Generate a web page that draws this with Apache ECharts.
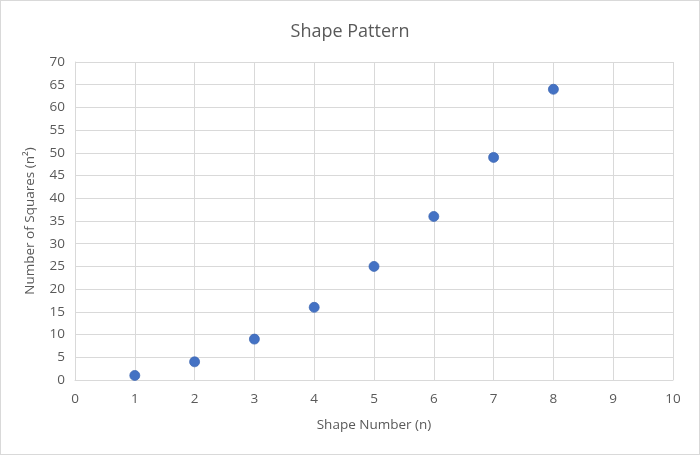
<!DOCTYPE html>
<html><head><meta charset="utf-8">
<script src="https://cdn.jsdelivr.net/npm/echarts@6/dist/echarts.min.js"></script>
<style>html,body{margin:0;padding:0;background:#fff}#c{width:700px;height:455px;box-sizing:border-box;border:1px solid #d9d9d9}</style>
</head><body><div id="c"></div>
<script>
const shapeNumbers = [1, 2, 3, 4, 5, 6, 7, 8];
const squareCounts = [1, 4, 9, 16, 25, 36, 49, 64];
const chartTitle = 'Shape Pattern';
const xAxisName = 'Shape Number (n)';
const yAxisName = 'Number of Squares (n²)';

const chart = echarts.init(document.getElementById('c'));
const font = '"Open Sans", "Noto Sans", sans-serif';
chart.setOption({
  animation: false,
  textStyle: {fontFamily: font},
  title: {text: chartTitle, left: 'center', top: 17,
    textStyle: {fontFamily: font, fontSize: 18, fontWeight: 'normal', color: '#595959'}},
  grid: {left: 74, right: 26, top: 61, bottom: 74, containLabel: false},
  xAxis: {type: 'value', min: 0, max: 10, interval: 1,
    name: xAxisName, nameLocation: 'middle', nameGap: 38,
    nameTextStyle: {fontFamily: font, fontSize: 13.5, color: '#595959'},
    axisLine: {show: true, lineStyle: {color: '#d9d9d9'}},
    axisTick: {show: false},
    axisLabel: {fontFamily: font, fontSize: 13.5, color: '#595959', margin: 12},
    splitLine: {show: true, lineStyle: {color: '#d9d9d9'}}},
  yAxis: {type: 'value', min: 0, max: 70, interval: 5,
    name: yAxisName, nameLocation: 'middle', nameGap: 38,
    nameTextStyle: {fontFamily: font, fontSize: 13.5, color: '#595959'},
    axisLine: {show: true, lineStyle: {color: '#d9d9d9'}},
    axisTick: {show: false},
    axisLabel: {fontFamily: font, fontSize: 13.5, color: '#595959', margin: 10},
    splitLine: {show: true, lineStyle: {color: '#d9d9d9'}}},
  series: [{type: 'scatter', symbolSize: 10,
    itemStyle: {color: '#4472C4', opacity: 1, borderColor: '#3d67b1', borderWidth: 0.75},
    data: shapeNumbers.map((n, i) => [n, squareCounts[i]])}]
});
</script></body></html>
